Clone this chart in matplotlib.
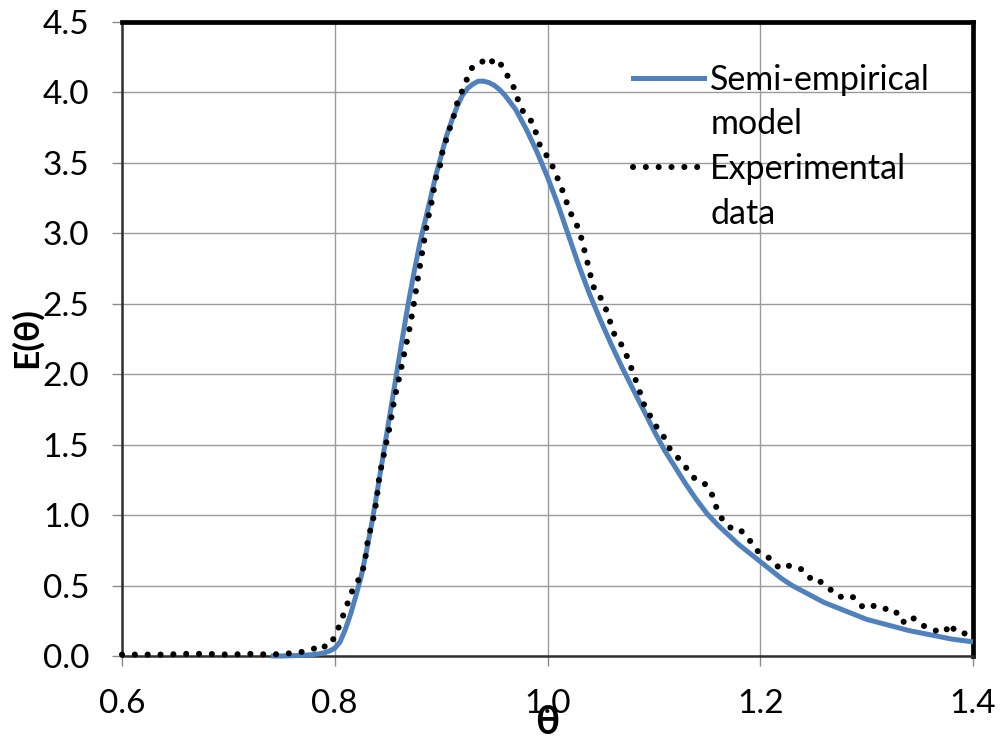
import matplotlib
matplotlib.use("Agg")
import matplotlib.pyplot as plt
from matplotlib.lines import Line2D
from matplotlib.ticker import FormatStrFormatter

# semi-empirical model curve (finer sampling around the peak)
model_theta = [
    0.740, 0.750, 0.760, 0.770,
    0.780, 0.785, 0.790, 0.795, 0.800, 0.805, 0.810, 0.815, 0.820, 0.825,
    0.830, 0.835, 0.840, 0.845, 0.850, 0.855, 0.860, 0.865, 0.870, 0.875,
    0.880, 0.885, 0.890, 0.895, 0.900, 0.905, 0.910, 0.915, 0.920, 0.925,
    0.930, 0.935, 0.940, 0.945, 0.950, 0.955, 0.960, 0.965, 0.970, 0.975,
    0.980, 0.985, 0.990, 0.995, 1.000,
    1.010, 1.020, 1.030, 1.040, 1.050, 1.060, 1.070, 1.080, 1.090, 1.100,
    1.110, 1.120, 1.130, 1.140, 1.150, 1.160, 1.170, 1.180, 1.190, 1.200,
    1.210, 1.220, 1.230, 1.240, 1.250, 1.260, 1.270, 1.280, 1.290, 1.300,
    1.310, 1.320, 1.330, 1.340, 1.350, 1.360, 1.370, 1.380, 1.390, 1.400,
]
model_E = [
    0.000, 0.000, 0.002, 0.005,
    0.010, 0.015, 0.022, 0.035, 0.055, 0.10, 0.19, 0.30, 0.43, 0.57,
    0.75, 0.95, 1.17, 1.40, 1.63, 1.86, 2.09, 2.32, 2.54, 2.74,
    2.93, 3.09, 3.25, 3.41, 3.55, 3.69, 3.80, 3.90, 3.98, 4.03,
    4.06, 4.08, 4.08, 4.07, 4.05, 4.02, 3.98, 3.93, 3.88, 3.81,
    3.74, 3.66, 3.58, 3.49, 3.40,
    3.20, 2.98, 2.76, 2.56, 2.38, 2.21, 2.05, 1.90, 1.75, 1.60,
    1.46, 1.34, 1.22, 1.11, 1.01, 0.93, 0.86, 0.79, 0.73, 0.67,
    0.61, 0.55, 0.50, 0.46, 0.42, 0.38, 0.35, 0.32, 0.29, 0.26,
    0.24, 0.22, 0.20, 0.18, 0.165, 0.15, 0.135, 0.12, 0.11, 0.10,
]

# measured RTD
exp_theta = [
    0.600, 0.620, 0.640, 0.660, 0.680, 0.700, 0.720, 0.740, 0.760, 0.770,
    0.780, 0.787, 0.792, 0.798, 0.803, 0.807, 0.811, 0.815, 0.819, 0.824,
    0.828, 0.831, 0.834, 0.837, 0.839, 0.842, 0.847, 0.852, 0.856, 0.861,
    0.866, 0.871, 0.875, 0.879, 0.883, 0.887, 0.891, 0.895, 0.899, 0.901,
    0.907, 0.911, 0.916, 0.921, 0.925, 0.930, 0.934, 0.939, 0.944, 0.948,
    0.952, 0.958, 0.968, 0.975, 0.981, 0.986, 0.993, 1.003, 1.007, 1.012,
    1.016, 1.022, 1.027, 1.031, 1.034, 1.037, 1.040, 1.042, 1.049, 1.050,
    1.055, 1.059, 1.063, 1.068, 1.073, 1.077, 1.081, 1.087, 1.090, 1.093,
    1.100, 1.104, 1.110, 1.115, 1.121, 1.126, 1.133, 1.137, 1.143, 1.148,
    1.154, 1.158, 1.161, 1.167, 1.174, 1.181, 1.187, 1.193, 1.198, 1.205,
    1.212, 1.218, 1.225, 1.231, 1.238, 1.243, 1.248, 1.252, 1.259, 1.265,
    1.271, 1.276, 1.285, 1.292, 1.297, 1.303, 1.310, 1.317, 1.323, 1.330,
    1.335, 1.342, 1.350, 1.357, 1.363, 1.369, 1.374, 1.378, 1.384, 1.390,
    1.400,
]
exp_E = [
    0.01, 0.01, 0.01, 0.015, 0.015, 0.01, 0.015, 0.01, 0.02, 0.03,
    0.05, 0.085, 0.06, 0.11, 0.19, 0.27, 0.35, 0.44, 0.50, 0.56,
    0.65, 0.82, 0.91, 1.00, 1.09, 1.28, 1.46, 1.64, 1.82, 1.99,
    2.17, 2.35, 2.53, 2.72, 2.90, 3.08, 3.22, 3.39, 3.48, 3.57,
    3.72, 3.81, 3.95, 4.03, 4.11, 4.19, 4.20, 4.22, 4.25, 4.22,
    4.24, 4.18, 4.04, 3.89, 3.82, 3.79, 3.62, 3.51, 3.43, 3.35,
    3.26, 3.14, 3.07, 2.99, 2.90, 2.81, 2.72, 2.63, 2.57, 2.54,
    2.46, 2.37, 2.28, 2.23, 2.16, 2.08, 2.00, 1.87, 1.80, 1.74,
    1.67, 1.60, 1.55, 1.47, 1.42, 1.38, 1.31, 1.27, 1.23, 1.22,
    1.16, 1.07, 1.01, 0.94, 0.90, 0.90, 0.84, 0.80, 0.74, 0.71,
    0.68, 0.62, 0.64, 0.64, 0.62, 0.57, 0.55, 0.56, 0.51, 0.48,
    0.43, 0.42, 0.43, 0.39, 0.34, 0.35, 0.36, 0.34, 0.30, 0.31,
    0.24, 0.28, 0.23, 0.20, 0.18, 0.18, 0.17, 0.23, 0.17, 0.16,
    0.16,
]

x_ticks = [0.6, 0.8, 1.0, 1.2, 1.4]
y_ticks = [0.0, 0.5, 1.0, 1.5, 2.0, 2.5, 3.0, 3.5, 4.0, 4.5]

plt.rcParams["font.family"] = ["Lato", "DejaVu Sans"]

fig = plt.figure(figsize=(10, 7.44), dpi=100)
ax = fig.add_axes([0.122, 0.1183, 0.851, 0.8521])

blue = "#4F81BD"
dots = (0, (0.001, 2.1))
ax.plot(model_theta, model_E, color=blue, lw=3.6, solid_capstyle="butt",
        solid_joinstyle="round", zorder=3, clip_on=False)
ax.plot(exp_theta, exp_E, color="black", lw=4.4, linestyle=dots,
        dash_capstyle="round", zorder=4, clip_on=False)

ax.set_xlim(0.6, 1.4)
ax.set_ylim(0, 4.5)
ax.set_xticks(x_ticks)
ax.set_yticks(y_ticks)
ax.xaxis.set_major_formatter(FormatStrFormatter("%.1f"))
ax.yaxis.set_major_formatter(FormatStrFormatter("%.1f"))

ax.grid(True, color="#9a9a9a", lw=1.0)
ax.set_axisbelow(True)
ax.tick_params(direction="out", length=7.5, width=1.0, color="#8a8a8a",
               labelsize=24, pad=16)

for side in ("top", "right"):
    ax.spines[side].set_linewidth(3.4)
    ax.spines[side].set_color("black")
for side in ("left", "bottom"):
    ax.spines[side].set_linewidth(1.8)
    ax.spines[side].set_color("#303030")

ax.set_xlabel("θ", fontsize=29, fontweight="bold")
ax.xaxis.set_label_coords(0.5, -0.076)
ax.set_ylabel("E(θ)", fontsize=25.5, fontweight="bold")
ax.yaxis.set_label_coords(-0.093, 0.502)

# each legend entry wraps onto a second row with no handle
blank = Line2D([], [], color="none")
handles = [
    Line2D([], [], color=blue, lw=3.6),
    blank,
    Line2D([], [], color="black", lw=4.4, linestyle=dots,
           dash_capstyle="round"),
    blank,
]
labels = ["Semi-empirical", "model", "Experimental", "data"]
ax.legend(handles, labels, loc="upper left", bbox_to_anchor=(0.6, 0.934),
          frameon=False, fontsize=24.5, handlelength=2.1, handletextpad=0.18,
          labelspacing=0.37, borderpad=0, borderaxespad=0)

fig.savefig("out.png", dpi=100)
